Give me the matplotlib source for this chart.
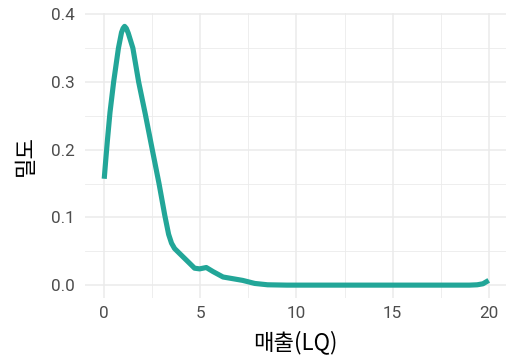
import matplotlib
matplotlib.use("Agg")
import matplotlib.pyplot as plt
from matplotlib.ticker import MultipleLocator

# Density curve
x_vals = [0.0, 0.08, 0.17, 0.30, 0.49, 0.74, 0.90, 0.98, 1.06, 1.15, 1.25, 1.49,
          1.79, 2.14, 2.50, 2.85, 3.15, 3.35, 3.50, 3.66, 4.09, 4.45, 4.70, 4.96,
          5.31, 5.66, 6.18, 7.20, 7.83, 8.50, 9.50, 12.0, 15.0, 19.0, 19.4, 19.7,
          20.0]
y_vals = [0.157, 0.185, 0.215, 0.255, 0.300, 0.350, 0.373, 0.379, 0.382, 0.379,
          0.372, 0.350, 0.300, 0.252, 0.200, 0.150, 0.103, 0.075, 0.062, 0.054,
          0.042, 0.032, 0.025, 0.024, 0.026, 0.020, 0.012, 0.007, 0.0025, 0.0005,
          0.0, 0.0, 0.0, 0.0, 0.0005, 0.002, 0.007]

x_ticks = [0, 5, 10, 15, 20]
y_ticks = [0.0, 0.1, 0.2, 0.3, 0.4]
y_tick_labels = ["0.0", "0.1", "0.2", "0.3", "0.4"]
x_title = "매출(LQ)"
y_title = "밀도"

line_color = "#22A698"
grid_color = "#EBEBEB"

plt.rcParams['font.family'] = ['Roboto', 'Noto Sans CJK KR', 'DejaVu Sans']

fig = plt.figure(figsize=(5.07, 3.60), dpi=100)
ax = fig.add_axes([85/507, 1 - 298/360, (506-85)/507, (298-12.8)/360])

ax.plot(x_vals, y_vals, color=line_color, lw=3.7, solid_capstyle='butt',
        solid_joinstyle='round', zorder=3)

ax.set_xlim(-1.0, 20.9)
ax.set_ylim(-0.019, 0.402)
ax.set_xticks(x_ticks)
ax.set_yticks(y_ticks)
ax.set_yticklabels(y_tick_labels)
ax.xaxis.set_minor_locator(MultipleLocator(2.5))
ax.yaxis.set_minor_locator(MultipleLocator(0.05))

ax.grid(which='major', color=grid_color, lw=1.1, zorder=0)
ax.grid(which='minor', color=grid_color, lw=0.6, zorder=0)
for s in ax.spines.values():
    s.set_visible(False)
ax.tick_params(which='both', length=0)
ax.tick_params(axis='y', pad=7.5, labelsize=12.3, labelcolor='#4D4D4D')
ax.tick_params(axis='x', pad=6, labelsize=12.3, labelcolor='#4D4D4D')

ax.set_xlabel(x_title, fontsize=16, color='black', labelpad=6.5,
              family=['Noto Sans CJK KR', 'DejaVu Sans'])
ax.set_ylabel(y_title, fontsize=16, color='black', labelpad=10,
              family=['Noto Sans CJK KR', 'DejaVu Sans'])

fig.savefig("out.png", dpi=100)
